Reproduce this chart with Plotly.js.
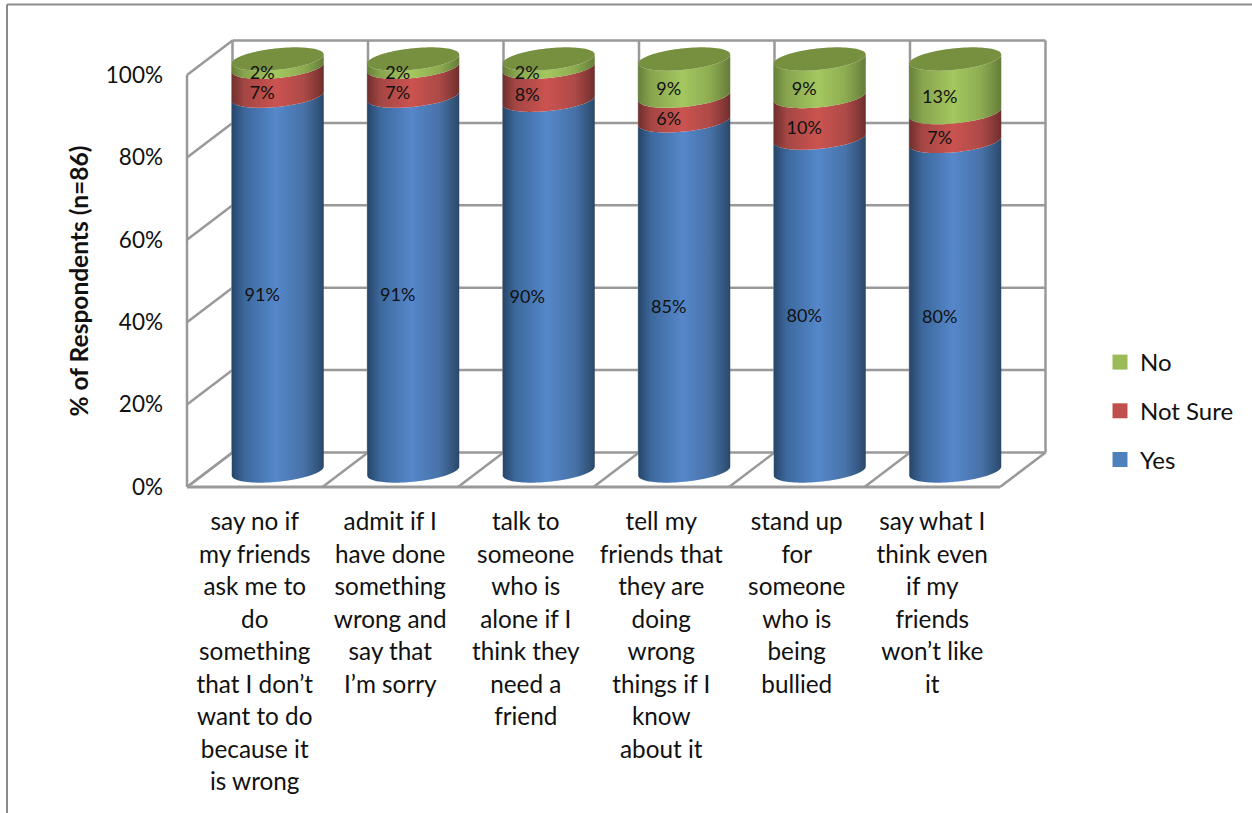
<!DOCTYPE html>
<html>
<head>
<meta charset="utf-8">
<script src="https://cdn.plot.ly/plotly-3.0.1.min.js"></script>
<style>html,body{margin:0;padding:0;background:#fff}#chart{width:1252px;height:813px}</style>
</head>
<body>
<div id="chart"></div>
<script>
// Survey statements, one list of text lines per category
const statements = [
  ["say no if","my friends","ask me to","do","something","that I don’t","want to do","because it","is wrong"],
  ["admit if I","have done","something","wrong and","say that","I’m sorry"],
  ["talk to","someone","who is","alone if I","think they","need a","friend"],
  ["tell my","friends that","they are","doing","wrong","things if I","know","about it"],
  ["stand up","for","someone","who is","being","bullied"],
  ["say what I","think even","if my","friends","won’t like","it"]
];

// Responses in percent
const yes     = [91, 91, 90, 85, 80, 80];
const notSure = [ 7,  7,  8,  6, 10,  7];
const no      = [ 2,  2,  2,  9,  9, 13];

const valueTicks = [0, 20, 40, 60, 80, 100];

// Pixel scale of the axes: 135.5 px per category, 4.12 px per percent
const W = 1252, H = 813;
const pxX = 135.5, pxY = 4.12;
const X = p => p / pxX;
const Y = p => p / pxY;

// The subplot spans the whole box; its vertical extent is centred on the front plane
const plot = {left: 180, right: 1060, top: 30, bottom: 532};
const paperX = p => (p - plot.left) / (plot.right - plot.left);
const paperY = p => (plot.bottom - p) / (plot.bottom - plot.top);

// Box depth and cylinder geometry, in axis units
const boxDX = X(45.5), boxDY = Y(34.5);
const midDX = X(23), midDY = Y(16);
const radius = X(46), ellipseB = Y(10.8), ellipseTilt = Y(4.5);

const GRID = '#999999';
const ramps = {
  yes: [[0,'#264569'],[0.14,'#3c689c'],[0.48,'#5587ca'],[0.78,'#4872a8'],[0.93,'#34577f'],[1,'#2a4768']],
  notSure: [[0,'#6f2f2d'],[0.14,'#a44644'],[0.48,'#cb5350'],[0.78,'#ad4a47'],[0.93,'#853836'],[1,'#6b2e2c']],
  no: [[0,'#67803a'],[0.14,'#87a44e'],[0.48,'#a4c75f'],[0.78,'#8dac51'],[0.93,'#728c42'],[1,'#647c38']]
};

const traces = [];

// Back wall, side wall and floor of the box
function wallTrace() {
  const x = [], y = [];
  const seg = (x0, y0, x1, y1) => { x.push(x0, x1, null); y.push(y0, y1, null); };
  valueTicks.forEach(v => {
    seg(-0.5 + boxDX, v + boxDY, 5.5 + boxDX, v + boxDY);
    seg(-0.5, v, -0.5 + boxDX, v + boxDY);
  });
  for (let i = 0; i <= 6; i++) {
    const bx = i - 0.5;
    seg(bx + boxDX, boxDY, bx + boxDX, 100 + boxDY);
    seg(bx, 0, bx + boxDX, boxDY);
  }
  seg(-0.5, 0, -0.5, 100);
  return {type: 'scatter', mode: 'lines', x, y, line: {color: GRID, width: 2.5, simplify: false},
          hoverinfo: 'skip', showlegend: false, cliponaxis: false};
}
traces.push(wallTrace());

// Heavier front edge of the floor
traces.push({type: 'scatter', mode: 'lines', x: [-0.5, 5.5], y: [0, 0],
  line: {color: GRID, width: 3}, hoverinfo: 'skip', showlegend: false, cliponaxis: false});

function arc(cx, value, from, to, n) {
  const xs = [], ys = [];
  for (let k = 0; k <= n; k++) {
    const t = from + (to - from) * k / n;
    xs.push(cx + radius * Math.cos(t));
    ys.push(value - ellipseB * Math.sin(t) + ellipseTilt * Math.cos(t));
  }
  return {xs, ys};
}

function gradientFill(cx, ramp) {
  return {type: 'horizontal', start: cx - radius, stop: cx + radius, colorscale: ramp};
}

// Body of one stacked segment: lower front arc, then upper front arc back again
function segmentTrace(i, v0, v1, ramp, name) {
  const cx = i + midDX;
  const low = arc(cx, v0 + midDY, Math.PI, 0, 48);
  const high = arc(cx, v1 + midDY, 0, Math.PI, 48);
  return {
    type: 'scatter', mode: 'lines', fill: 'toself', name,
    x: low.xs.concat(high.xs), y: low.ys.concat(high.ys),
    line: {width: 0, simplify: false}, fillgradient: gradientFill(cx, ramp),
    hoverinfo: 'skip', showlegend: false, cliponaxis: false
  };
}

const labelX = [], labelY = [], labelText = [];
statements.forEach((_, i) => {
  const total = yes[i] + notSure[i] + no[i];
  const share = v => v / total * 100;
  const a = share(yes[i]);
  const b = a + share(notSure[i]);
  const nudge = i === 2 ? X(-6) : 0;

  traces.push(segmentTrace(i, 0, a, ramps.yes, 'Yes'));
  traces.push(segmentTrace(i, a, b, ramps.notSure, 'Not Sure'));
  traces.push(segmentTrace(i, b, 100, ramps.no, 'No'));

  const top = arc(i + midDX, 100 + midDY, 0, 2 * Math.PI, 96);
  traces.push({type: 'scatter', mode: 'lines', fill: 'toself', x: top.xs, y: top.ys,
    line: {width: 0, simplify: false}, fillcolor: '#779040',
    hoverinfo: 'skip', showlegend: false, cliponaxis: false});

  // A thin top band lifts its label clear of the one below
  const lift = no[i] < 3 ? Y(1) : 0;
  [[yes[i], a / 2, 0], [notSure[i], (a + b) / 2, 0], [no[i], (b + 100) / 2, lift]].forEach(([val, mid, up]) => {
    labelX.push(i + midDX + X(-15.5) + nudge);
    labelY.push(mid + midDY - Y(12.5) + up);
    labelText.push(val + '%');
  });
});

// Percentage labels on the segments
traces.push({type: 'scatter', mode: 'text', x: labelX, y: labelY, text: labelText,
  textposition: 'middle center', textfont: {family: 'Lato, sans-serif', size: 18, color: '#111'},
  hoverinfo: 'skip', showlegend: false, cliponaxis: false});

// Legend entries
[['No', '#9bbb59'], ['Not Sure', '#c0504d'], ['Yes', '#4f81bd']].forEach(([name, color]) => {
  traces.push({type: 'scatter', mode: 'markers', name, x: [null], y: [null], legendgroup: name,
    marker: {symbol: 'square', size: 15, color}, hoverinfo: 'skip'});
});

const tickLabel = lines => lines.map(s => '<span style="font-size:24.3px">' + s + '</span>').join('<br>');

const frame = {color: '#8a8a8a', width: 2};

const layout = {
  width: W, height: H,
  margin: {l: plot.left, r: W - plot.right, t: plot.top, b: H - plot.bottom, pad: 0},
  paper_bgcolor: '#fff', plot_bgcolor: 'rgba(0,0,0,0)',
  showlegend: true,
  legend: {x: paperX(1100), xanchor: 'left', y: paperY(411), yanchor: 'middle', tracegroupgap: 14.5,
    traceorder: 'grouped', itemsizing: 'trace', bgcolor: 'rgba(0,0,0,0)',
    font: {family: 'Lato, sans-serif', size: 24, color: '#111'}},
  xaxis: {
    range: [-0.5 - X(7), 5.5 + X(60)], tickmode: 'array', tickvals: statements.map((_, i) => i),
    ticktext: statements.map(tickLabel), tickangle: 0, ticks: '', showgrid: false, zeroline: false,
    showline: false, anchor: 'free', position: paperY(494), ticklabelstandoff: 10,
    tickfont: {family: 'Lato, sans-serif', size: 25, color: '#111'}
  },
  yaxis: {
    range: [-Y(45), 100 + Y(45)], tickmode: 'array', tickvals: valueTicks, ticktext: valueTicks.map(v => v + '%'),
    ticks: '', showgrid: false, zeroline: false, showline: false, ticklabelstandoff: 16,
    tickfont: {family: 'Lato, sans-serif', size: 22.5, color: '#111'},
    title: {text: '<b>% of Respondents (n=86)</b>', standoff: 10,
      font: {family: 'Lato, sans-serif', size: 24.5, color: '#111'}}
  },
  // Frame around the chart, running off the right and bottom edges
  shapes: [
    {type: 'line', xref: 'paper', yref: 'paper', x0: paperX(7), x1: paperX(7),
     y0: paperY(H), y1: paperY(4.5), line: frame},
    {type: 'line', xref: 'paper', yref: 'paper', x0: paperX(7), x1: paperX(W),
     y0: paperY(4.5), y1: paperY(4.5), line: frame}
  ]
};

Plotly.newPlot('chart', traces, layout, {displayModeBar: false, staticPlot: true});
</script>
</body>
</html>
